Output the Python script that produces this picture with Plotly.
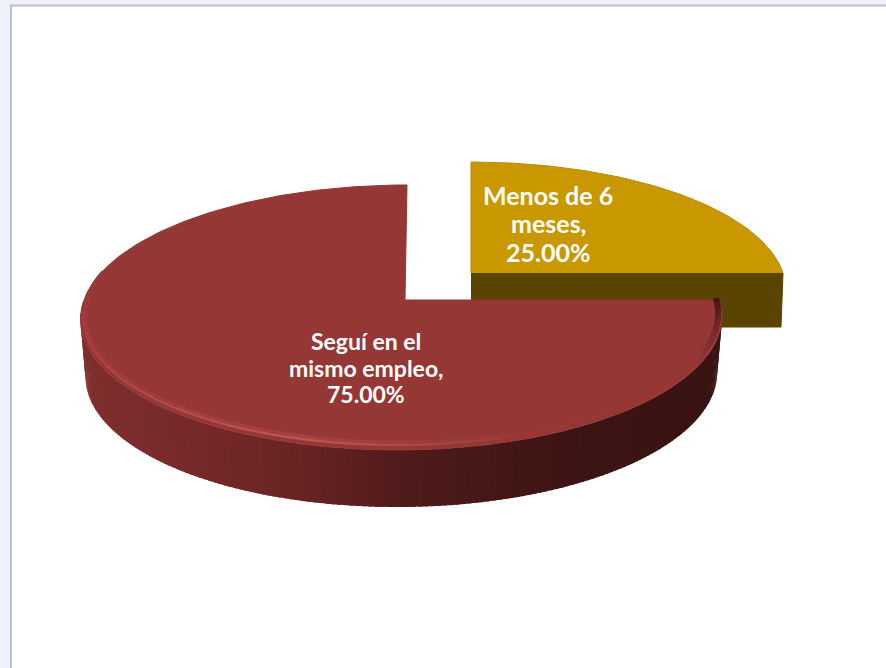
import numpy as np
import plotly.graph_objects as go

categories = ["Seguí en el<br>mismo empleo", "Menos de 6<br>meses"]
values = [75.0, 25.0]
slice_colors = ["#953735", "#C99700"]
gold_wall = "#5A4500"

W, H = 886, 668
K = -0.132
SHEAR = 5.0
fig = go.Figure()


def project(deg, ax, ay, bx, az, shear=0.0):
    t = np.radians(deg)
    u, v = np.cos(t), np.sin(t)
    d = 1 + K * v
    return ax + bx * u / d - shear * v, ay + az * v / d


def poly(x, y, fill, line=None, width=1):
    fig.add_trace(go.Scatter(
        x=list(x), y=list(y), mode="lines", fill="toself", fillcolor=fill,
        line=dict(color=line or fill, width=width), hoverinfo="skip", showlegend=False))


def lerp_color(stops, p):
    xs = [s[0] for s in stops]
    rgb = [np.interp(p, xs, [s[1][i] for s in stops]) for i in range(3)]
    return "rgb(%d,%d,%d)" % tuple(int(round(c)) for c in rgb)


span_red = 360 * values[0] / sum(values)
span_gold = 360 * values[1] / sum(values)

# gold slice: ends at east, starts where the red slice stops
g_ang = np.linspace(360 - span_gold, 360, 80)
gtx, gty = project(g_ang, 471, 273, 312, 125.6)
poly([471, gtx[-1], 781, 471], [273, gty[-1], 327, 327], gold_wall)
poly(np.r_[471, gtx], np.r_[273, gty], slice_colors[1], line="#B88C00")

# red slice: side wall in strips, shaded along x
wall_stops = [(80, (128, 46, 46)), (200, (118, 41, 41)), (300, (104, 35, 35)),
              (400, (80, 27, 27)), (500, (68, 23, 22)), (600, (59, 20, 19)), (730, (57, 20, 19))]
edges = np.linspace(0, 180, 181)
for a0, a1 in zip(edges[:-1], edges[1:]):
    seg = np.linspace(a0, a1 + 0.6, 3)
    tx, ty = project(seg, 402, 300, 318, 130.2, SHEAR)
    bx, by = project(seg, 402, 357, 313, 130.2, SHEAR)
    col = lerp_color(wall_stops, float(tx.mean()))
    poly(np.r_[tx, bx[::-1]], np.r_[ty, by[::-1]], col, width=0)

# red slice: top face
r_ang = np.linspace(0, span_red, 240)
rx, ry = project(r_ang, 402, 300, 318, 130.2, SHEAR)
poly(np.r_[405, rx, 405], np.r_[300, ry, 300], slice_colors[0])

# bevel along the near rim: a wide soft band under a narrow bright one
soft_stops = [(0, (60, 20, 22)), (8, (95, 33, 34)), (25, (149, 55, 53)), (70, (151, 56, 54)),
              (105, (165, 66, 64)), (140, (160, 61, 60)), (170, (158, 58, 57)), (192, (149, 55, 53))]
rim_stops = [(0, (70, 24, 26)), (12, (115, 40, 42)), (30, (149, 55, 53)), (70, (154, 58, 56)),
             (105, (190, 88, 86)), (140, (176, 72, 70)), (170, (165, 62, 60)), (192, (149, 55, 53))]
rim_edges = np.linspace(0, 192, 81)
for stops, inset, lw in ((soft_stops, 4.0, 6), (rim_stops, 3.0, 2)):
    for a0, a1 in zip(rim_edges[:-1], rim_edges[1:]):
        seg = np.linspace(a0, a1, 3)
        x, y = project(seg, 402, 300 - inset / 2, 318 - inset, 130.2 - inset, SHEAR)
        col = lerp_color(stops, (a0 + a1) / 2)
        fig.add_trace(go.Scatter(x=list(x), y=list(y), mode="lines", line=dict(color=col, width=lw),
                                 hoverinfo="skip", showlegend=False))

# labels, one annotation per text line
label_font = dict(family="Lato, Carlito, sans-serif", color="white")
red_lines = f"{categories[0]},<br>{values[0]:.2f}%".split("<br>")
gold_lines = f"{categories[1]},<br>{values[1]:.2f}%".split("<br>")
for line, yy in zip(red_lines, (341, 368, 394)):
    fig.add_annotation(x=366, y=yy, text=f"<b>{line}</b>", showarrow=False, font=dict(size=23, **label_font))
for line, yy in zip(gold_lines, (195, 223, 252)):
    fig.add_annotation(x=548, y=yy, text=f"<b>{line}</b>", showarrow=False, font=dict(size=25, **label_font))

fig.update_layout(
    width=W, height=H, margin=dict(l=0, r=0, t=0, b=0),
    paper_bgcolor="#EEF3F9", plot_bgcolor="#EEF3F9", showlegend=False,
    xaxis=dict(range=[0, W], visible=False, fixedrange=True),
    yaxis=dict(range=[H, 0], visible=False, fixedrange=True),
    shapes=[dict(type="rect", layer="below", x0=11, y0=5.5, x1=W + 20, y1=H + 20,
                 fillcolor="white", line=dict(color="#BDBBD8", width=2))],
)
fig.write_html("out.html", config=dict(displayModeBar=False),
               post_script="document.body.style.margin='0';document.documentElement.style.overflow='hidden';")
